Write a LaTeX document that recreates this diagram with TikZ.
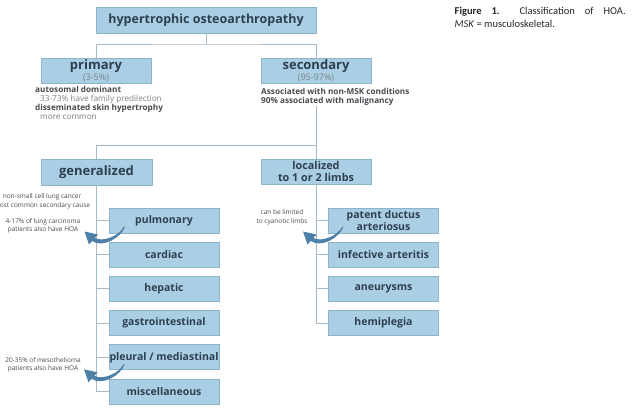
\documentclass[tikz,border=0pt]{standalone}
\usepackage{fontspec}
\setmainfont{Open Sans}
\newfontfamily\captionfont{Carlito}
\usetikzlibrary{calc,positioning}

\definecolor{boxblue}{RGB}{170,207,228}
\definecolor{boxedge}{RGB}{140,180,204}
\definecolor{linegrey}{RGB}{168,186,200}
\definecolor{labeltext}{RGB}{46,64,80}
\definecolor{notetext}{RGB}{70,74,78}
\definecolor{notegrey}{RGB}{125,130,135}
\definecolor{arrowblue}{RGB}{78,128,168}

\tikzset{
  catbox/.style={draw=boxedge, fill=boxblue, line width=0.8pt, text=labeltext,
    align=center, inner sep=0pt, outer sep=0pt, minimum width=110pt,
    minimum height=25pt, font=\fontsize{13}{15}\selectfont\bfseries},
  subbox/.style={catbox, font=\fontsize{10.5}{12.5}\selectfont\bfseries},
  tree/.style={draw=linegrey, line width=1pt},
  note/.style={inner sep=0pt, align=left, text=notetext,
    font=\fontsize{8.2}{9}\selectfont\bfseries},
  sidenote/.style={inner sep=0pt, align=center, text=notetext,
    font=\fontsize{6.5}{8.4}\selectfont},
  notearrow/.pic={
    \fill[arrowblue] (0.6,0) .. controls (-3,11) and (-22,22) .. (-32.3,14.5)
      -- (-35.5,18) -- (-40,5) -- (-26.5,8) -- (-29.7,11.5)
      .. controls (-21,16) and (-5,9) .. (-0.6,0) -- cycle;
  }
}

\newcommand{\pct}[1]{{\fontsize{9}{9}\selectfont\mdseries\color{notegrey}#1}}
\newcommand{\lite}[1]{{\mdseries\color{notegrey}#1}}

\begin{document}
\begin{tikzpicture}[x=1pt, y=-1pt]
\useasboundingbox (0,0) rectangle (639,416);
\fill[white] (0,0) rectangle (639,416);

% top of the tree
\node[catbox, minimum width=220pt, minimum height=26pt,
  font=\fontsize{12.5}{15}\selectfont\bfseries] (hoa) at (206,20) {hypertrophic osteoarthropathy};
\coordinate (split1) at (206,44);

\node[catbox] (primary) at (96,70.5) {primary\\[-4pt]\pct{(3-5\%)}};
\node[catbox] (secondary) at (316,70.5) {secondary\\[-4pt]\pct{(95-97\%)}};

\node[note, anchor=north west] (primnote) at (35,86.5)
  {autosomal dominant\\\hspace*{5pt}\lite{33-73\% have family predilection}\\
   disseminated skin hypertrophy\\\hspace*{5pt}\lite{more common}};
\node[note, anchor=north west] (secnote) at (261,88)
  {Associated with non-MSK conditions\\90\% associated with malignancy};

% second level
\coordinate (split2) at (316,145);
\node[catbox, minimum width=111pt, minimum height=26pt] (generalized) at (96.5,172) {generalized};
\node[catbox, font=\fontsize{10.8}{11.5}\selectfont\bfseries] (localized) at (316,171.5)
  {localized\\to 1 or 2 limbs};

% generalized causes
\node[subbox] (pulmonary) at (164,220.5) {pulmonary};
\node[subbox, below=9.2pt of pulmonary] (cardiac) {cardiac};
\node[subbox, below=9.2pt of cardiac] (hepatic) {hepatic};
\node[subbox, below=9.2pt of hepatic] (gastro) {gastrointestinal};
\node[subbox, below=9.2pt of gastro] (pleural) {pleural / mediastinal};
\node[subbox, below=9.2pt of pleural] (misc) {miscellaneous};

% localized causes
\node[subbox] (pda) at (383.5,220.5) {patent ductus\\arteriosus};
\node[subbox, below=9.2pt of pda] (arteritis) {infective arteritis};
\node[subbox, below=9.2pt of arteritis] (aneurysm) {aneurysms};
\node[subbox, below=9.2pt of aneurysm] (hemiplegia) {hemiplegia};

% connectors
\draw[tree] (hoa.south) -- (split1);
\draw[tree] (primary.north) |- (split1) -| (secondary.north);
\draw[tree] (secondary.south |- secnote.south) -- (localized.north);
\draw[tree] (generalized.north) |- (split2);
\foreach \c in {pulmonary,cardiac,hepatic,gastro,pleural,misc}
  \draw[tree] (generalized.south) |- (\c.west);
\foreach \c in {pda,arteritis,aneurysm,hemiplegia}
  \draw[tree] (localized.south) |- (\c.west);

% side notes
\node[sidenote] (nsclc) at (42,201.5) {non-small cell lung cancer\\most common secondary cause};
\node[sidenote] (lungca) at (43,226) {4-17\% of lung carcinoma\\patients also have HOA};
\node[sidenote] (meso) at (43,365) {20-35\% of mesothelioma\\patients also have HOA};
\node[sidenote] (cyan) at (282,217.5) {can be limited\\to cyanotic limbs};

\pic at ($(pulmonary.south west)+(15.5,-6.5)$) {notearrow};
\pic at ($(pleural.south west)+(15,-5.5)$) {notearrow};
\pic at ($(pda.south west)+(14.5,-6.5)$) {notearrow};

% caption
\node[anchor=north west, inner sep=0pt, text width=171pt, align=justify,
  font=\captionfont\fontsize{10.5}{13}\selectfont, text=black!85] (caption) at (454.5,6.5)
  {\textbf{Figure 1.}\ \ Classification of HOA.\linebreak \textit{MSK} = musculoskeletal.};
\end{tikzpicture}
\end{document}
